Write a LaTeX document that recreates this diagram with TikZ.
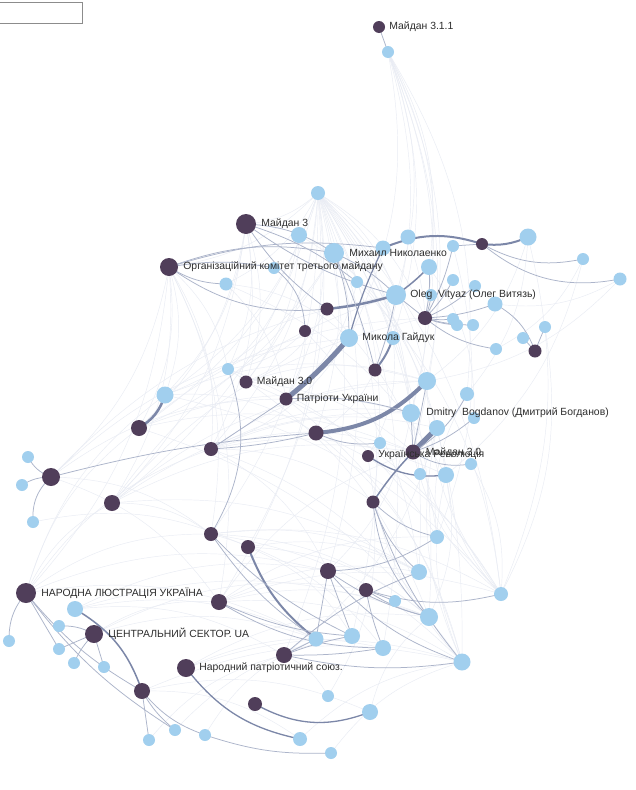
\documentclass[tikz,border=0pt]{standalone}
\usepackage{fontspec}
\setmainfont{Liberation Sans}
\definecolor{nodeD}{RGB}{80,62,90}
\definecolor{nodeL}{RGB}{161,207,238}
\definecolor{edgeF}{RGB}{233,236,244}
\definecolor{edgeM}{RGB}{172,180,202}
\definecolor{edgeT}{RGB}{124,135,168}
\definecolor{labelC}{RGB}{45,45,45}
\tikzset{
  dk/.style={circle, fill=nodeD, inner sep=0pt, minimum size=#1},
  lt/.style={circle, fill=nodeL, inner sep=0pt, minimum size=#1},
  faint/.style={draw=edgeF, line width=0.45pt},
  med/.style={draw=edgeM, line width=0.75pt},
  heavy/.style={draw=edgeT, line width=#1},
  lbl/.style={font=\fontsize{10.4}{12}\selectfont, text=labelC, inner sep=0pt},
  legendbox/.style={draw=black!45, fill=white, line width=0.8pt}
}
\begin{document}
\begin{tikzpicture}[x=1pt,y=-1pt]
\useasboundingbox[fill=white] (0,0) rectangle (635,790);
\draw[legendbox] (-1,2) rectangle (82,23);
\foreach \n/\x/\y in {D1/379/27, D2/246/224, D3/169/267, D4/482/244, D5/327/309,
  D6/305/331, D7/425/318, D8/535/351, D9/375/370, D10/246/382, D11/286/399,
  D12/139/428, D13/316/433, D14/211/449, D15/368/456, D16/413/452, D17/51/477,
  D18/112/503, D19/373/502, D20/211/534, D21/248/547, D22/328/571, D23/366/590,
  D24/26/593, D25/219/602, D26/94/634, D27/284/655, D28/186/668, D29/142/691,
  D30/255/704,
  L1/388/52, L2/318/193, L3/299/235, L4/334/253, L5/383/248,
  L6/408/237, L7/453/246, L8/528/237, L9/429/267, L10/274/268, L11/226/284,
  L12/357/282, L13/453/280, L14/396/295, L15/475/286, L16/495/304, L17/453/319,
  L18/457/325, L19/473/325, L20/523/338, L21/545/327, L22/496/349, L23/583/259,
  L24/620/279, L25/349/338, L26/393/338, L27/228/369, L28/165/395, L29/427/381,
  L30/467/394, L31/411/413, L32/437/428, L33/474/418, L34/380/443, L35/420/474,
  L36/446/475, L37/471/464, L38/437/537, L39/28/457, L40/22/485, L41/33/522,
  L42/419/572, L43/501/594, L44/395/601, L45/429/617, L46/316/639, L47/352/636,
  L48/383/648, L49/462/662, L50/75/609, L51/59/626, L52/9/641, L53/59/649,
  L54/74/663, L55/104/667, L56/328/696, L57/370/712, L58/149/740, L59/175/730,
  L60/205/735, L61/300/739, L62/331/753, L63/431/295}
  \coordinate (\n) at (\x,\y);
% faint background links
\foreach \a/\b in {L2/D3, L2/D2, L2/L11, L2/D10, L2/D14, L2/D18, L2/D12, L2/L28, L2/D20, L2/D21,
  L2/D22, L2/D25, L2/L45, L2/L49, L2/L43, L2/D19, L2/L42, L2/D16, L2/L31, L2/L29, L2/D7, L2/L14,
  L2/L26, L2/D13, L2/D11, L2/D27, L2/L47, L2/L48, L1/L14, L1/L9, L1/D7, L1/L29, L1/L31, L1/L25,
  L1/D9, L1/L26, L1/D16, L1/L30, D3/D18, D3/D17, D3/D12, D3/D14, D3/D20, D3/L27, D3/L28, D3/D25,
  D3/D24, D2/D12, D2/L28, D2/D10, D2/D14, D2/D18, D2/L27, D24/D18, D24/D20, D24/D22, D24/L46,
  D24/D14, D18/L14, D18/L29, D18/D7, D18/L31, D18/D16, D17/L14, D17/L25, D17/D11, D14/L29,
  D14/L31, D14/D16, D14/L32, D14/L36, D14/D19, D14/D22, D14/L45, D25/L42, D25/L45, D25/L49,
  D25/L43, D25/L38, D25/D16, D29/L57, D29/L49, D29/L61, D28/L49, D28/L45, D28/L48, L50/L46,
  L50/D27, L50/L45, D20/L45, D20/L49, D20/L42, D20/L43, D20/L48, D21/L42, D21/L45, D21/L47,
  D12/L31, D12/D16, D12/D7, L43/L29, L43/L31, L43/D16, L43/L36, L49/L36, L49/L32, L49/D15,
  L38/L30, D13/L43, D13/L49, L28/D13, L28/L29, D10/L29, D10/D16, L11/L25, L11/D11, L3/D10,
  L3/L27, L4/D12, L4/L28, L8/L29, L8/L30, L24/L16, L23/L22, L6/L31, L9/L33, D6/D11, D6/L27,
  D5/D10, L12/D11, L25/D14, L26/D15, D9/D13, L31/D22, L32/D27, L36/L45, L37/L43, D19/L56,
  D27/L56, L61/L49, L57/L45, L62/L49, L58/D27, L59/L47, L60/L46, D26/D25, D26/L46, D18/D20,
  D17/D20, D17/D25, D18/L42, D12/L49, L28/L43, L27/L38, L27/L45, D10/L43, D11/L49, L11/L36,
  D6/L42, D5/L38, L3/L29, L4/L36, L12/L43, D24/L28, D24/D12, L41/D21, L50/D22, D26/D23,
  L8/L43, L24/L29, L23/L36, L7/L38, L21/L43}
  \draw[faint] (\a) to[bend left=18] (\b);
% visible links
\draw[med] (D1) -- (L1);
\draw[heavy=2.5pt] (D12) to[bend right=20] (L28);
\draw[med] (D17) to[bend left=20] (L39);
\draw[med] (D17) to[bend right=15] (L40);
\draw[med] (D17) to[bend right=25] (L41);
\draw[med] (D17) to[bend left=5] (D13);
\draw[med] (D2) to[bend left=15] (L4);
\draw[med] (D2) to[bend left=10] (L12);
\draw[med] (D2) to[bend right=10] (L14);
\draw[med] (D2) to[bend right=10] (D5);
\draw[med] (D3) to[bend right=20] (D5);
\draw[med] (D3) to[bend right=15] (L11);
\draw[med] (D3) to[bend left=10] (L10);
\draw[med] (D3) to[bend left=15] (L4);
\draw[med] (D3) to[bend left=12] (L5);
\draw[med] (L10) to[bend left=25] (D6);
\draw[heavy=2.5pt] (D5) to[bend right=5] (L14);
\draw[heavy=2pt] (D4) to[bend right=20] (L5);
\draw[heavy=2pt] (D4) to[bend right=15] (L8);
\draw[med] (D4) to[bend right=20] (L23);
\draw[med] (D4) to[bend right=25] (L24);
\draw[med] (D4) -- (L7);
\draw[heavy=1.5pt] (L9) to[bend left=5] (L14);
\draw[med] (L4) to[bend left=10] (L25);
\draw[med] (L4) to[bend left=5] (D9);
\draw[heavy=1.2pt] (L5) to[bend right=5] (L25);
\draw[heavy=5pt] (L25) to[bend left=5] (D11);
\draw[heavy=2pt] (L26) to[bend left=10] (D9);
\draw[med] (L14) to[bend left=5] (D9);
\draw[med] (L14) to[bend right=10] (L4);
\draw[med] (L14) -- (D7);
\foreach \b in {L13, L15, L9, L17, L18, L19, L16, L63, L7}
  \draw[med] (D7) to[bend right=8] (\b);
\draw[med] (D7) to[bend right=15] (L22);
\draw[med] (L16) to[bend left=20] (D8);
\draw[med] (D8) -- (L20);
\draw[med] (D8) -- (L21);
\draw[heavy=4pt] (D13) to[bend right=20] (L29);
\draw[med] (D13) to[bend right=15] (L34);
\draw[med] (D13) to[bend left=5] (D14);
\draw[med] (D11) -- (D14);
\draw[med] (D11) to[bend left=10] (L31);
\draw[heavy=5pt] (D16) -- (L32);
\draw[med] (D16) -- (L31);
\draw[med] (D16) to[bend right=15] (L30);
\draw[med] (D16) to[bend right=10] (L33);
\draw[med] (D16) to[bend right=20] (L37);
\draw[med] (D16) -- (L29);
\draw[heavy=1.3pt] (D15) to[bend right=20] (L36);
\draw[heavy=1.5pt] (D16) to[bend right=5] (D19);
\draw[med] (D19) to[bend right=15] (L38);
\draw[med] (D19) to[bend right=15] (L42);
\draw[med] (D19) to[bend right=20] (L45);
\draw[med] (D19) to[bend right=10] (L49);
\draw[med] (D22) to[bend right=15] (L38);
\draw[med] (D22) -- (L47);
\draw[med] (D22) to[bend right=10] (L45);
\draw[med] (D22) to[bend right=15] (L49);
\draw[med] (D22) -- (L46);
\draw[med] (D23) -- (L44);
\draw[med] (D23) to[bend right=10] (L45);
\draw[med] (D23) to[bend right=5] (L48);
\draw[med] (D23) to[bend right=15] (L43);
\draw[med] (D27) -- (L46);
\draw[med] (D27) to[bend left=5] (L47);
\draw[med] (D27) to[bend right=5] (L48);
\draw[med] (D27) to[bend right=10] (L49);
\draw[med] (D27) to[bend left=10] (L42);
\draw[heavy=2pt] (D21) to[bend right=15] (L46);
\draw[med] (D20) to[bend right=10] (L46);
\draw[med] (D20) to[bend right=10] (L47);
\draw[med] (D25) to[bend right=10] (L47);
\draw[med] (D25) to[bend right=15] (L48);
\draw[med] (L27) to[bend left=25] (D20);
\draw[heavy=1.5pt] (L50) to[bend left=20] (D29);
\draw[med] (D26) to[bend right=15] (L51);
\draw[med] (D26) -- (L53);
\draw[med] (D26) to[bend right=10] (L54);
\draw[med] (D26) -- (L55);
\draw[med] (D24) to[bend right=20] (L52);
\draw[med] (D24) -- (L53);
\draw[med] (D24) to[bend right=10] (D29);
\draw[med] (D24) to[bend right=10] (L59);
\draw[med] (D29) -- (L58);
\draw[med] (D29) to[bend right=10] (L59);
\draw[med] (D29) to[bend right=15] (L60);
\draw[med] (L60) to[bend right=10] (L62);
\draw[heavy=1.3pt] (D28) to[bend right=20] (L61);
\draw[heavy=1.3pt] (D30) to[bend right=25] (L57);
% nodes on top
\foreach \n/\d in {L1/12, L2/14, L3/16, L4/20, L5/15, L6/15, L7/12, L8/17, L9/16, L10/12, L11/13,
  L12/12, L13/12, L14/20, L15/12, L16/15, L17/12, L18/12, L19/12, L20/12, L21/12, L22/12, L23/12,
  L24/13, L25/18, L26/14, L27/12, L28/17, L29/18, L30/14, L31/18, L32/16, L33/12, L34/12, L35/12,
  L36/16, L37/12, L38/14, L39/12, L40/12, L41/12, L42/16, L43/14, L44/12, L45/18, L46/15, L47/16,
  L48/16, L49/17, L50/16, L51/12, L52/12, L53/12, L54/12, L55/12, L56/12, L57/16, L58/12, L59/12,
  L60/12, L61/14, L62/12, L63/12}
  \node[lt=\d pt] (n\n) at (\n) {};
\foreach \n/\d in {D1/12, D2/20, D3/18, D4/12, D5/13, D6/12, D7/14, D8/13, D9/13, D10/13, D11/13,
  D12/16, D13/15, D14/14, D15/12, D16/15, D17/18, D18/16, D19/13, D20/14, D21/14, D22/16, D23/14,
  D24/20, D25/16, D26/18, D27/16, D28/18, D29/16, D30/14}
  \node[dk=\d pt] (n\n) at (\n) {};
% labels
\node[lbl, anchor=west] (t1) at ([xshift=4pt]nD1.east) {Майдан 3.1.1};
\node[lbl, anchor=west] (t2) at ([xshift=5pt]nD2.east) {Майдан 3};
\node[lbl, anchor=west] (t3) at ([xshift=5pt]nL4.east) {Михаил Николаенко};
\node[lbl, anchor=west] (t4) at ([xshift=5pt]nD3.east) {Організаційний комітет третього майдану};
\node[lbl, anchor=west] (t5) at ([xshift=4pt]nL14.east) {Oleg~ Vityaz (Олег Витязь)};
\node[lbl, anchor=west] (t6) at ([xshift=4pt]nL25.east) {Микола Гайдук};
\node[lbl, anchor=west] (t7) at ([xshift=4pt]nD10.east) {Майдан 3.0};
\node[lbl, anchor=west] (t8) at ([xshift=4pt]nD11.east) {Патріоти України};
\node[lbl, anchor=west] (t9) at ([xshift=6pt]nL31.east) {Dmitry~ Bogdanov (Дмитрий Богданов)};
\node[lbl, anchor=west] (t10) at ([xshift=4pt,yshift=1pt]nD15.east) {Українська Революція};
\node[lbl, anchor=west] (t11) at ([xshift=5pt,yshift=-1pt]nD16.east) {Майдан 3.0};
\node[lbl, anchor=west] (t12) at ([xshift=5pt]nD24.east) {НАРОДНА ЛЮСТРАЦІЯ УКРАЇНА};
\node[lbl, anchor=west] (t13) at ([xshift=5pt]nD26.east) {ЦЕНТРАЛЬНИЙ СЕКТОР. UA};
\node[lbl, anchor=west] (t14) at ([xshift=4pt]nD28.east) {Народний патріотичний союз.};
\end{tikzpicture}
\end{document}
